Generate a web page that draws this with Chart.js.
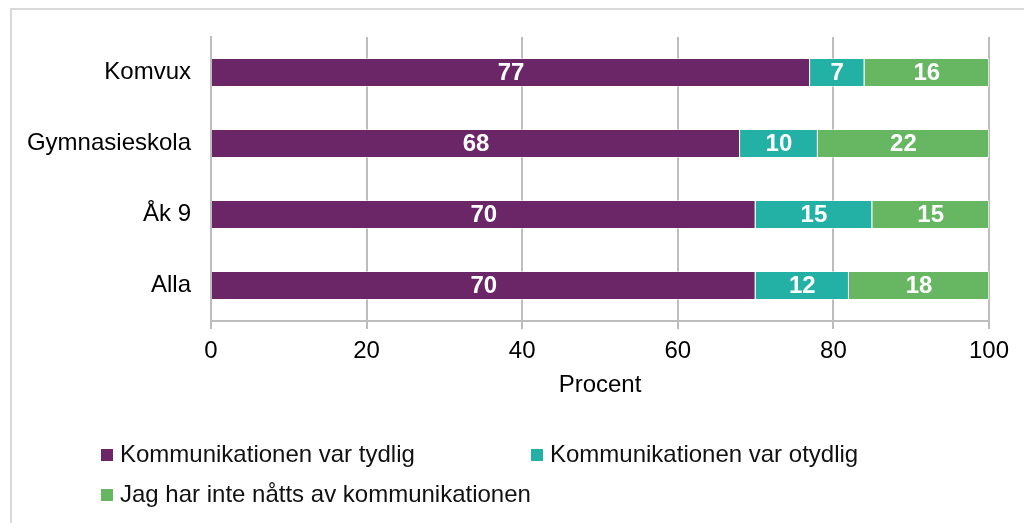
<!DOCTYPE html>
<html>
<head>
<meta charset="utf-8">
<script src="https://cdn.jsdelivr.net/npm/chart.js@4/dist/chart.umd.min.js"></script>
<style>
    html, body { margin: 0; padding: 0; background: #fff; overflow: hidden; }
    body { width: 1024px; height: 523px; position: relative; font-family: "Liberation Sans", Arial, sans-serif; }
    #ram { position: absolute; left: 10px; top: 8px; width: 1100px; height: 600px; border: 2px solid #d9d9d9; box-sizing: border-box; }
    #wrap { position: absolute; left: 0; top: 0; width: 1024px; height: 523px; }
    .leg { position: absolute; font-size: 24px; color: #111; line-height: 26px; white-space: nowrap; }
    .leg span { display: inline-block; width: 12px; height: 12px; margin-right: 7px; vertical-align: 1px; }
</style>
</head>
<body>
<div id="ram"></div>
<div id="wrap"><canvas id="grafico" width="1024" height="523"></canvas></div>
<div id="legenda"></div>
<script>
// Data
const kategorier = ["Komvux", "Gymnasieskola", "Åk 9", "Alla"];
const serieNamn = [
    "Kommunikationen var tydlig",
    "Kommunikationen var otydlig",
    "Jag har inte nåtts av kommunikationen"
];
const tydlig = [77, 68, 70, 70];
const otydlig = [7, 10, 15, 12];
const inteNatts = [16, 22, 15, 18];
const xTicks = [0, 20, 40, 60, 80, 100];
const farger = ["#6b2667", "#22b1a4", "#66b662"];

const font = "'Liberation Sans', Arial, sans-serif";

// etiketter mitt i varje stapel
const etiketter = {
    id: "etiketter",
    afterDatasetsDraw(chart) {
        const ctx = chart.ctx;
        ctx.save();
        ctx.fillStyle = "#fff";
        ctx.font = "bold 24px " + font;
        ctx.textAlign = "center";
        ctx.textBaseline = "middle";
        chart.data.datasets.forEach((ds, i) => {
            chart.getDatasetMeta(i).data.forEach((el, j) => {
                const p = el.getCenterPoint();
                ctx.fillText(ds.data[j], p.x, p.y + 1);
            });
        });
        ctx.restore();
    }
};

new Chart(document.getElementById("grafico"), {
    type: "bar",
    data: {
        labels: kategorier,
        datasets: [tydlig, otydlig, inteNatts].map((d, i) => ({
            label: serieNamn[i],
            data: d,
            backgroundColor: farger[i],
            borderColor: "rgba(255,255,255,0.5)",
            borderWidth: 1,
            categoryPercentage: 1,
            barPercentage: 0.41
        }))
    },
    options: {
        indexAxis: "y",
        responsive: false,
        animation: false,
        layout: { padding: { left: 0, right: 35, top: 37, bottom: 119 } },
        plugins: {
            legend: { display: false },
            tooltip: { enabled: false }
        },
        scales: {
            x: {
                stacked: true,
                min: 0,
                max: 100,
                afterBuildTicks: s => { s.ticks = xTicks.map(v => ({ value: v })); },
                afterFit: s => { s.height = 83; },
                grid: { color: "#bdbdbd", lineWidth: 2, tickLength: 8, drawTicks: true },
                border: { color: "#bdbdbd", width: 2 },
                ticks: { color: "#000", font: { family: font, size: 24 }, padding: 8 },
                title: {
                    display: true,
                    text: "Procent",
                    color: "#000",
                    font: { family: font, size: 24 },
                    padding: { top: 4, bottom: 4 }
                }
            },
            y: {
                stacked: true,
                afterFit: s => { s.width = 211; },
                grid: { display: false },
                border: { color: "#bdbdbd", width: 2 },
                ticks: { color: "#000", font: { family: font, size: 24 }, padding: 12 }
            }
        }
    },
    plugins: [etiketter]
});

// Legend
const legPos = [[101, 441], [531, 441], [101, 481]];
const legenda = document.getElementById("legenda");
serieNamn.forEach((n, i) => {
    const d = document.createElement("div");
    d.className = "leg";
    d.style.left = legPos[i][0] + "px";
    d.style.top = legPos[i][1] + "px";
    d.innerHTML = `<span style="background:${farger[i]}"></span>${n}`;
    legenda.appendChild(d);
});
</script>
</body>
</html>
